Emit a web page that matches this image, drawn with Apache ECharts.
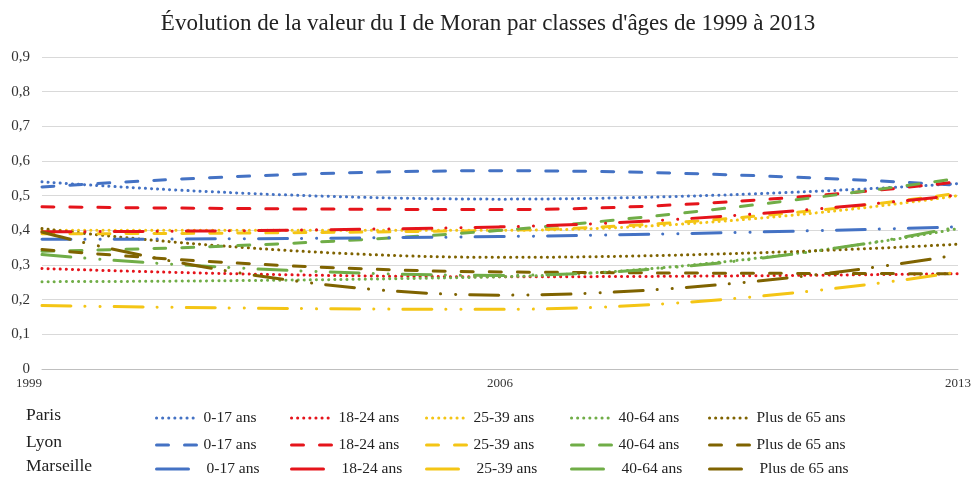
<!DOCTYPE html>
<html>
<head>
<meta charset="utf-8">
<script src="https://cdn.jsdelivr.net/npm/echarts@6/dist/echarts.min.js"></script>
<style>html,body{margin:0;padding:0;background:#fff}#c{width:976px;height:482px}</style>
</head>
<body>
<div id="c"></div>
<script>
// ---- data ----
const years = ['1999', '2006', '2013'];
const ageClasses = ['0-17 ans', '18-24 ans', '25-39 ans', '40-64 ans', 'Plus de 65 ans'];
const cities = ['Paris', 'Lyon', 'Marseille'];
const yTicks = [0, 0.1, 0.2, 0.3, 0.4, 0.5, 0.6, 0.7, 0.8, 0.9];

const paris_0_17 = [0.54, 0.49, 0.535];
const paris_18_24 = [0.29, 0.266, 0.275];
const paris_25_39 = [0.40, 0.40, 0.50];
const paris_40_64 = [0.252, 0.266, 0.405];
const paris_65 = [0.405, 0.322, 0.36];

const lyon_0_17 = [0.525, 0.572, 0.53];
const lyon_18_24 = [0.468, 0.46, 0.54];
const lyon_25_39 = [0.39, 0.40, 0.507];
const lyon_40_64 = [0.34, 0.40, 0.55];
const lyon_65 = [0.345, 0.28, 0.275];

const marseille_0_17 = [0.374, 0.382, 0.41];
const marseille_18_24 = [0.396, 0.41, 0.502];
const marseille_25_39 = [0.183, 0.172, 0.28];
const marseille_40_64 = [0.33, 0.27, 0.41];
const marseille_65 = [0.395, 0.213, 0.33];

const cityData = {
  Paris: [paris_0_17, paris_18_24, paris_25_39, paris_40_64, paris_65],
  Lyon: [lyon_0_17, lyon_18_24, lyon_25_39, lyon_40_64, lyon_65],
  Marseille: [marseille_0_17, marseille_18_24, marseille_25_39, marseille_40_64, marseille_65]
};

// ---- styles ----
const colors = ['#4472C4', '#E5141B', '#F4C515', '#70AD47', '#7F6300'];
const dashTypes = {
  Paris: [0.1, 6],
  Lyon: [12, 16],
  Marseille: [29, 14, 0.1, 15, 0.1, 14]
};
const FONT = '"Liberation Serif", "Times New Roman", serif';

const series = [];
cities.forEach(city => {
  ageClasses.forEach((age, i) => {
    series.push({
      name: city + '|' + age,
      type: 'line',
      smooth: true,
      symbol: 'none',
      data: cityData[city][i],
      color: colors[i],
      lineStyle: { width: 3, type: dashTypes[city], cap: 'round', color: colors[i] },
      z: 2
    });
  });
});

const colX = [155, 290, 425, 570, 708];
const rowY = [410, 437, 461];
const legends = [];
cities.forEach((city, r) => {
  ageClasses.forEach((age, i) => {
    const isM = city === 'Marseille';
    legends.push({
      data: [city + '|' + age],
      left: colX[i],
      top: rowY[r],
      selectedMode: false,
      itemWidth: isM ? 32 : 42,
      itemHeight: 14,
      padding: 0,
      formatter: n => n.split('|')[1],
      itemStyle: { opacity: 0 },
      lineStyle: isM ? { type: 'solid', width: 3, cap: 'round' } : { type: dashTypes[city], width: 3, cap: 'round' },
      textStyle: { fontFamily: FONT, fontSize: 15.5, color: '#222', padding: [0, 0, 0, isM ? 13 : 0] }
    });
  });
});

const graphics = cities.map((city, r) => ({
  type: 'text',
  left: 26,
  top: rowY[r] - 4,
  style: { text: city, font: '17.5px ' + FONT, fill: '#222' }
}));

const chart = echarts.init(document.getElementById('c'));
chart.setOption({
  animation: false,
  title: {
    text: "Évolution de la valeur du I de Moran par classes d'âges de 1999 à 2013",
    left: 'center',
    top: 7,
    textStyle: { fontFamily: FONT, fontSize: 23, fontWeight: 'normal', color: '#222' }
  },
  grid: { left: 42, right: 18, top: 57, bottom: 113 },
  xAxis: {
    type: 'category',
    data: years,
    boundaryGap: false,
    axisLine: { lineStyle: { color: '#bfbfbf' } },
    axisTick: { show: false },
    axisLabel: { fontFamily: FONT, fontSize: 13, color: '#333', margin: 8, alignMinLabel: 'right', alignMaxLabel: 'center' }
  },
  yAxis: {
    type: 'value',
    min: yTicks[0],
    max: yTicks[yTicks.length - 1],
    interval: 0.1,
    axisLine: { show: false },
    axisTick: { show: false },
    splitLine: { lineStyle: { color: '#d9d9d9', width: 1 } },
    axisLabel: {
      fontFamily: FONT, fontSize: 15, color: '#333', margin: 12,
      formatter: v => Math.abs(v) < 1e-9 ? '0' : v.toFixed(1).replace('.', ',')
    }
  },
  legend: legends,
  graphic: graphics,
  series: series
});
</script>
</body>
</html>
